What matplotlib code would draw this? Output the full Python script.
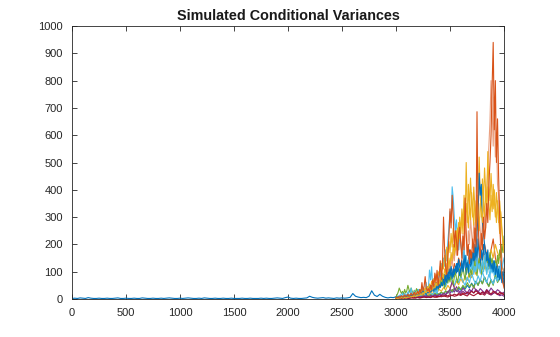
import matplotlib
matplotlib.use("Agg")
import matplotlib.pyplot as plt
import numpy as np

## Observed conditional variance, t = 0..3000 every 25 steps
hist_v = [2, 3, 2, 4, 3, 2, 5, 3, 2, 2, 3, 2, 2, 3, 2, 2, 3, 4, 2, 2, 3,
          2, 2, 3, 2, 2, 4, 3, 2, 2, 3, 2, 2, 3, 2, 3, 4, 3, 2, 2, 3,
          2, 3, 4, 3, 2, 2, 3, 2, 4, 3, 2, 2, 3, 2, 2, 3, 2, 2, 3, 2,
          2, 2, 3, 2, 2, 3, 2, 2, 2, 3, 2, 3, 2, 2, 3, 4, 3, 2, 5, 7,
          3, 2, 3, 2, 2, 3, 4, 10, 6, 4, 3, 4, 5, 3, 4, 3, 2, 4, 3, 4,
          3, 4, 6, 20, 10, 7, 5, 6, 5, 10, 30, 14, 9, 17, 10, 6, 4, 6, 5, 8]
hist_t = np.arange(len(hist_v)) * 25

## Simulated paths, fine grid: t = 3000..4000 every 10 steps
fine_t = 3000 + np.arange(101) * 10

orange1 = [4, 6, 5, 9, 7, 12, 8, 10, 15, 9,
           12, 18, 10, 14, 22, 13, 17, 25, 15, 20,
           28, 18, 35, 22, 60, 30, 45, 82, 40, 30,
           38, 25, 50, 35, 70, 45, 95, 60, 105, 50,
           85, 140, 70, 120, 300, 180, 110, 90, 160, 230,
           330, 260, 380, 300, 190, 250, 215, 160, 240, 263,
           200, 150, 230, 180, 370, 240, 160, 200, 130, 180,
           150, 220, 170, 260, 190, 686, 280, 200, 150, 240,
           180, 300, 220, 260, 350, 280, 420, 500, 600, 780,
           940, 620, 800, 500, 660, 450, 300, 180, 90, 60, 40]
orange2 = [3, 4, 6, 5, 8, 6, 4, 7, 5, 9,
           6, 8, 12, 9, 7, 11, 14, 10, 8, 13,
           10, 15, 12, 18, 14, 20, 16, 24, 19, 28,
           22, 30, 25, 35, 28, 40, 32, 48, 36, 55,
           45, 60, 50, 75, 58, 90, 70, 110, 85, 130,
           100, 150, 120, 170, 140, 200, 160, 230, 180, 260,
           210, 170, 240, 190, 280, 220, 160, 250, 200, 300,
           240, 190, 280, 220, 330, 260, 200, 300, 250, 200,
           280, 230, 320, 260, 400, 480, 560, 650, 800, 700,
           560, 740, 520, 610, 420, 380, 280, 200, 150, 110, 90]
yellow1 = [2, 3, 2, 4, 3, 5, 4, 3, 6, 4,
           5, 7, 6, 9, 7, 10, 8, 12, 9, 14,
           11, 16, 13, 20, 15, 24, 18, 28, 22, 32,
           26, 38, 30, 45, 35, 52, 40, 60, 48, 70,
           55, 80, 65, 95, 75, 110, 90, 130, 100, 150,
           120, 170, 140, 200, 160, 230, 180, 260, 210, 300,
           240, 330, 270, 380, 300, 350, 280, 420, 330, 443,
           360, 300, 410, 340, 280, 380, 320, 250, 350, 326,
           280, 360, 300, 400, 330, 411, 350, 290, 380, 320,
           420, 360, 300, 390, 340, 280, 360, 300, 250, 200, 170]
yellow2 = [5, 4, 7, 5, 9, 6, 8, 11, 7, 10,
           8, 13, 10, 15, 11, 17, 13, 20, 15, 23,
           18, 26, 20, 30, 24, 35, 27, 40, 32, 45,
           38, 55, 42, 65, 50, 75, 60, 90, 70, 100,
           85, 120, 95, 140, 110, 160, 130, 190, 150, 210,
           170, 240, 190, 260, 210, 180, 250, 200, 280, 220,
           260, 300, 240, 330, 270, 500, 320, 260, 350, 290,
           390, 330, 270, 360, 300, 250, 340, 520, 380, 300,
           440, 360, 480, 400, 340, 540, 420, 360, 460, 380,
           330, 400, 340, 280, 360, 300, 240, 320, 260, 210, 180]
blue1 = [6, 4, 8, 5, 10, 7, 5, 9, 6, 12,
         8, 14, 10, 7, 16, 11, 19, 13, 9, 15,
         12, 20, 14, 25, 17, 30, 20, 24, 16, 28,
         22, 35, 26, 30, 40, 28, 45, 33, 50, 38,
         55, 42, 60, 48, 70, 52, 80, 60, 90, 70,
         85, 100, 75, 110, 90, 120, 95, 130, 105, 85,
         110, 140, 100, 125, 160, 115, 135, 95, 150, 120,
         130, 170, 140, 200, 160, 250, 300, 461, 380, 420,
         280, 240, 200, 170, 140, 180, 120, 150, 110, 130,
         100, 140, 90, 120, 80, 110, 70, 100, 60, 80, 50]
blue2 = [3, 5, 4, 7, 5, 9, 6, 8, 11, 7,
         10, 8, 13, 9, 15, 11, 17, 13, 20, 15,
         18, 22, 16, 26, 20, 30, 23, 35, 27, 40,
         30, 45, 35, 50, 38, 55, 42, 60, 45, 65,
         50, 70, 55, 80, 60, 90, 65, 100, 75, 110,
         85, 120, 95, 80, 110, 90, 130, 100, 145, 115,
         95, 130, 105, 160, 120, 90, 140, 110, 180, 130,
         150, 110, 170, 130, 190, 140, 220, 160, 120, 180,
         140, 200, 150, 120, 170, 130, 110, 160, 120, 100,
         140, 110, 90, 130, 100, 80, 120, 95, 70, 100, 80]
cyan1 = [4, 6, 10, 8, 15, 9, 22, 12, 8, 18,
         10, 25, 14, 9, 40, 18, 12, 30, 15, 10,
         20, 35, 16, 12, 28, 45, 20, 15, 60, 25,
         40, 106, 70, 118, 45, 30, 55, 25, 40, 60,
         100, 80, 130, 110, 150, 120, 180, 140, 210, 260,
         320, 280, 411, 370, 300, 250, 290, 220, 180, 240,
         200, 170, 150, 190, 130, 160, 120, 145, 100, 130,
         110, 140, 90, 120, 100, 150, 110, 130, 95, 120,
         140, 100, 160, 120, 90, 130, 110, 80, 120, 95,
         110, 85, 130, 100, 75, 120, 90, 140, 110, 130, 150]
green1 = [8, 15, 25, 40, 30, 20, 28, 18, 35, 22,
          30, 50, 35, 25, 40, 28, 20, 32, 24, 38,
          28, 20, 35, 26, 42, 30, 22, 38, 28, 45,
          34, 50, 38, 28, 44, 55, 40, 60, 45, 35,
          50, 65, 48, 70, 55, 40, 60, 75, 58, 80,
          62, 90, 70, 55, 80, 100, 75, 60, 85, 110,
          80, 95, 120, 90, 70, 105, 130, 95, 80, 110,
          90, 125, 100, 140, 110, 85, 120, 150, 115, 90,
          130, 100, 160, 120, 95, 140, 110, 170, 130, 150,
          120, 100, 140, 110, 160, 130, 180, 150, 200, 170, 230]

## Low-variance paths, coarse grid: every 20 steps
coarse_t = 3000 + np.arange(51) * 20

green2 = [3, 5, 8, 6, 12, 9, 15, 10, 8, 12,
          10, 15, 12, 20, 15, 10, 18, 14, 22, 16,
          20, 25, 18, 30, 22, 35, 28, 40, 30, 45,
          35, 50, 40, 60, 45, 55, 40, 65, 50, 70,
          55, 80, 60, 45, 70, 50, 90, 60, 75, 100, 80]
purple1 = [4, 10, 6, 8, 5, 7, 4, 6, 9, 5,
           8, 6, 10, 7, 12, 9, 8, 11, 14, 10,
           15, 12, 20, 16, 25, 35, 65, 40, 30, 25,
           20, 28, 22, 18, 25, 30, 22, 35, 28, 20,
           25, 18, 30, 22, 15, 20, 25, 18, 12, 15, 10]
purple2 = [3, 5, 4, 7, 5, 6, 8, 5, 9, 7,
           6, 10, 8, 12, 9, 11, 14, 10, 16, 12,
           18, 14, 22, 16, 28, 20, 35, 25, 45, 30,
           25, 40, 30, 22, 35, 28, 45, 32, 25, 38,
           30, 22, 35, 26, 40, 30, 24, 34, 28, 20, 25]
red1 = [2, 3, 2, 4, 3, 5, 3, 4, 6, 4,
        5, 4, 6, 8, 5, 7, 6, 9, 7, 10,
        8, 12, 10, 14, 11, 16, 12, 18, 14, 20,
        16, 22, 18, 25, 20, 28, 22, 30, 24, 18,
        26, 20, 32, 24, 18, 28, 22, 16, 24, 20, 15]
red2 = [1, 2, 3, 2, 4, 3, 2, 5, 3, 4,
        6, 4, 5, 8, 6, 7, 5, 9, 7, 6,
        10, 8, 12, 9, 7, 11, 14, 10, 12, 16,
        13, 18, 14, 11, 20, 15, 12, 17, 22, 16,
        19, 14, 24, 18, 15, 21, 26, 19, 16, 22, 18]
cyan2 = [5, 8, 15, 10, 20, 12, 30, 18, 14, 25,
         35, 20, 15, 28, 18, 40, 22, 16, 30, 20,
         55, 80, 60, 45, 70, 90, 65, 50, 75, 60,
         85, 65, 50, 80, 60, 95, 70, 55, 85, 65,
         100, 75, 60, 90, 70, 55, 80, 65, 95, 75, 110]
blue3 = [2, 4, 3, 6, 4, 8, 5, 7, 10, 6,
         9, 12, 8, 14, 10, 16, 12, 18, 14, 20,
         16, 24, 18, 28, 22, 32, 25, 36, 28, 40,
         32, 46, 36, 50, 40, 58, 45, 65, 50, 72,
         56, 80, 62, 48, 70, 55, 85, 65, 75, 90, 70]
yellow3 = [2, 4, 3, 5, 8, 6, 10, 7, 12, 9,
           15, 11, 18, 13, 22, 16, 25, 20, 30, 24,
           35, 28, 42, 33, 50, 38, 58, 45, 65, 52,
           75, 60, 85, 68, 95, 78, 110, 90, 125, 100,
           140, 110, 160, 130, 180, 150, 200, 170, 150, 120, 100]
orange3 = [4, 6, 5, 8, 6, 10, 12, 8, 15, 10,
           18, 22, 14, 28, 20, 35, 25, 45, 32, 60,
           40, 75, 55, 90, 70, 110, 85, 130, 100, 150,
           120, 170, 140, 110, 160, 130, 190, 150, 120, 170,
           140, 200, 160, 130, 180, 220, 150, 120, 90, 70, 50]

# MATLAB default colour order
c_blue, c_orange, c_yellow = "#0072BD", "#D95319", "#EDB120"
c_purple, c_green, c_cyan, c_red = "#7E2F8E", "#77AC30", "#4DBEEE", "#A2142F"

coarse_paths = [
    (blue3, c_blue), (orange3, c_orange), (yellow3, c_yellow),
    (purple2, c_purple), (green2, c_green), (cyan2, c_cyan), (red2, c_red),
    (purple1, c_purple), (red1, c_red),
]
fine_paths = [
    (blue2, c_blue), (green1, c_green), (cyan1, c_cyan), (yellow2, c_yellow),
    (blue1, c_blue), (yellow1, c_yellow), (orange1, c_orange),
]

plt.rcParams["font.family"] = ["Liberation Sans", "DejaVu Sans"]
ink = "#262626"

fig = plt.figure(figsize=(5.6, 3.37), dpi=100)
ax = fig.add_axes([0.1286, 0.1128, 0.7714, 0.81])

ax.plot(hist_t, hist_v, color=c_blue, lw=0.8)
for vals, col in coarse_paths:
    ax.plot(coarse_t, vals, color=col, lw=0.8)
# lighter orange path underneath the main ones
ax.plot(fine_t, orange2, color=c_orange, lw=0.8, alpha=0.55)
for vals, col in fine_paths:
    ax.plot(fine_t, vals, color=col, lw=0.8)

ax.set_xlim(0, 4000)
ax.set_ylim(0, 1000)
ax.set_xticks(np.arange(0, 4001, 500))
ax.set_yticks(np.arange(0, 1001, 100))
ax.tick_params(direction="in", top=True, right=True, length=3.5, width=0.6,
               colors=ink, labelsize=8, pad=6.5)
for s in ax.spines.values():
    s.set_color(ink)
    s.set_linewidth(0.6)
ax.set_title("Simulated Conditional Variances", fontsize=10.4, fontweight="bold",
             color="#1a1a1a", pad=4)

fig.savefig("out.png", dpi=100)
